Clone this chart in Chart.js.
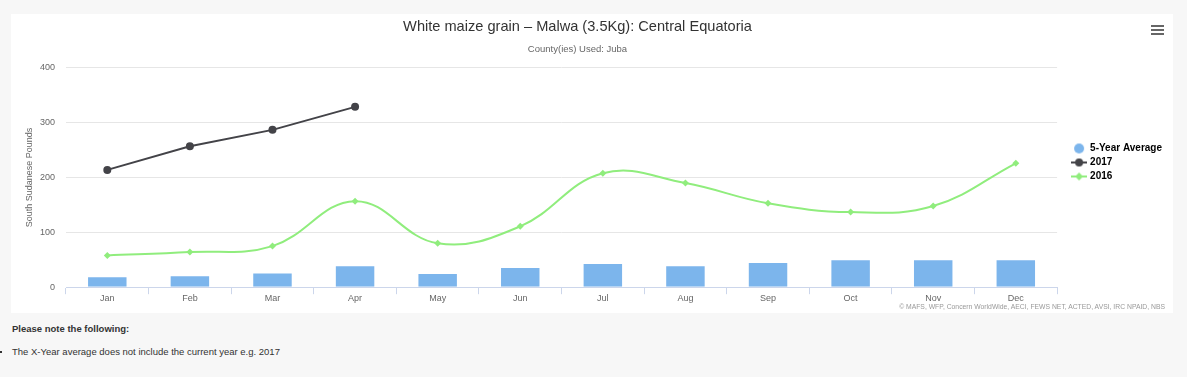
<!DOCTYPE html>
<html>
<head>
<meta charset="utf-8">
<script src="https://cdn.jsdelivr.net/npm/chart.js@4.4.0/dist/chart.umd.min.js"></script>
<style>
  html, body { margin: 0; padding: 0; background: #f7f7f7; width: 1187px; height: 377px; overflow: hidden; }
  #box { position: absolute; left: 11px; top: 14px; width: 1162px; height: 299px; background: #fff; }
  #chart { position: absolute; left: 0; top: 0; }
  #menu { position: absolute; left: 1140px; top: 11px; width: 13px; }
  #menu div { height: 2px; background: #666; margin-bottom: 2px; }
  #credits { position: absolute; right: 8px; top: 289px; font: 6.8px "Liberation Sans", Arial, sans-serif; color: #999; white-space: nowrap; }
  #note { position: absolute; left: 12px; top: 323px; font: bold 9.5px "Liberation Sans", Arial, sans-serif; color: #333; }
  #bullet { position: absolute; left: 12px; top: 346px; font: 9.5px "Liberation Sans", Arial, sans-serif; color: #333; }
  #bullet:before { content: ""; position: absolute; left: -12px; top: 5px; width: 2px; height: 2px; background: #333; }
</style>
</head>
<body>
<div id="box">
  <canvas id="chart" width="1162" height="299"></canvas>
  <div id="menu"><div></div><div></div><div></div></div>
  <div id="credits">© MAFS, WFP, Concern WorldWide, AECI, FEWS NET, ACTED, AVSI, IRC NPAID, NBS</div>
</div>
<div id="note">Please note the following:</div>
<div id="bullet">The X-Year average does not include the current year e.g. 2017</div>

<script>
// Chart data
const months = ['Jan', 'Feb', 'Mar', 'Apr', 'May', 'Jun', 'Jul', 'Aug', 'Sep', 'Oct', 'Nov', 'Dec'];
const fiveYearAvg = [20, 22, 27, 40, 26, 37, 44, 40, 46, 51, 51, 51];
const prices2017 = [214, 257, 287, 329, null, null, null, null, null, null, null, null];
const prices2016 = [58, 64, 75, 157, 80, 111, 208, 190, 153, 137, 148, 226];

const COLORS = {
    avg: '#7cb5ec',
    y2017: '#434348',
    y2016: '#90ed7d'
};
const FONT = '"Liberation Sans", Arial, sans-serif';

/**
 * Legend symbol: a short line with its marker, or a plain dot
 */
function legendSymbol(color, kind) {
    const c = document.createElement('canvas');
    c.width = 16;
    c.height = 12;
    const g = c.getContext('2d');
    g.fillStyle = color;
    g.strokeStyle = color;
    if (kind === 'dot') {
        g.beginPath();
        g.arc(8, 6, 5, 0, Math.PI * 2);
        g.fill();
        return c;
    }
    g.lineWidth = 2;
    g.beginPath();
    g.moveTo(0, 6);
    g.lineTo(16, 6);
    g.stroke();
    g.beginPath();
    if (kind === 'circle') {
        g.arc(8, 6, 4, 0, Math.PI * 2);
    } else {
        g.moveTo(8, 2); g.lineTo(12, 6); g.lineTo(8, 10); g.lineTo(4, 6);
        g.closePath();
    }
    g.fill();
    return c;
}
const symbols = [
    legendSymbol(COLORS.avg, 'dot'),
    legendSymbol(COLORS.y2017, 'circle'),
    legendSymbol(COLORS.y2016, 'diamond')
];

// Small nudges to match the title / legend placement of the original
const nudge = {
    id: 'nudge',
    afterLayout(chart) {
        chart.boxes.filter(b => b.position === 'top').forEach(b => {
            b.left -= 14;
            b.right -= 14;
        });
        if (chart.legend) {
            chart.legend.top += 4;
            chart.legend.bottom += 4;
        }
    }
};

const ctx = document.getElementById('chart');
new Chart(ctx, {
    type: 'bar',
    data: {
        labels: months,
        datasets: [{
            label: '5-Year Average',
            data: fiveYearAvg,
            backgroundColor: COLORS.avg,
            borderColor: '#ffffff',
            borderWidth: 1,
            categoryPercentage: 1,
            barPercentage: 0.49
        }, {
            type: 'line',
            label: '2017',
            data: prices2017,
            borderColor: COLORS.y2017,
            backgroundColor: COLORS.y2017,
            borderWidth: 2,
            pointRadius: 4,
            pointBorderWidth: 0,
            tension: 0,
            spanGaps: false
        }, {
            type: 'line',
            label: '2016',
            data: prices2016,
            borderColor: COLORS.y2016,
            backgroundColor: COLORS.y2016,
            borderWidth: 2,
            pointStyle: 'rectRot',
            pointRadius: 3.5,
            pointBorderWidth: 0,
            tension: 0.4
        }]
    },
    options: {
        responsive: false,
        animation: false,
        layout: { padding: { left: 0, right: 1, top: 0, bottom: 10 } },
        plugins: {
            title: {
                display: true,
                text: 'White maize grain – Malwa (3.5Kg): Central Equatoria',
                color: '#333333',
                font: { family: FONT, size: 14.6, weight: 'normal' },
                padding: { top: 4, bottom: 8 }
            },
            subtitle: {
                display: true,
                text: 'County(ies) Used: Juba',
                color: '#666666',
                font: { family: FONT, size: 9.5 },
                padding: { top: 0, bottom: 13 }
            },
            legend: {
                position: 'right',
                labels: {
                    usePointStyle: true,
                    pointStyleWidth: 12,
                    padding: 4,
                    color: '#333333',
                    font: { family: FONT, size: 10, weight: 'bold' },
                    generateLabels: chart => chart.data.datasets.map((ds, i) => ({
                        text: ds.label,
                        pointStyle: symbols[i],
                        fillStyle: ds.backgroundColor,
                        strokeStyle: ds.borderColor,
                        lineWidth: 0,
                        hidden: false,
                        datasetIndex: i
                    }))
                }
            },
            tooltip: { enabled: false }
        },
        scales: {
            x: {
                offset: true,
                grid: {
                    offset: true,
                    drawOnChartArea: false,
                    drawTicks: true,
                    tickLength: 7,
                    color: '#ccd6eb'
                },
                border: { color: '#ccd6eb' },
                ticks: {
                    color: '#666666',
                    padding: -1,
                    font: { family: FONT, size: 9 }
                }
            },
            y: {
                min: 0,
                max: 400,
                ticks: {
                    stepSize: 100,
                    padding: 11,
                    color: '#666666',
                    font: { family: FONT, size: 9 }
                },
                grid: { color: '#e6e6e6', drawTicks: false },
                border: { display: false },
                title: {
                    display: true,
                    text: 'South Sudanese Pounds',
                    color: '#666666',
                    font: { family: FONT, size: 9 },
                    padding: { top: 13, bottom: 0 }
                },
                afterFit(scale) { scale.width = 55; }
            },
            // empty spacer between the plot and the legend
            spacer: {
                position: 'right',
                display: true,
                grid: { display: false },
                border: { display: false },
                ticks: { display: false },
                afterFit(scale) { scale.width = 12; }
            }
        }
    },
    plugins: [nudge]
});
</script>
</body>
</html>
